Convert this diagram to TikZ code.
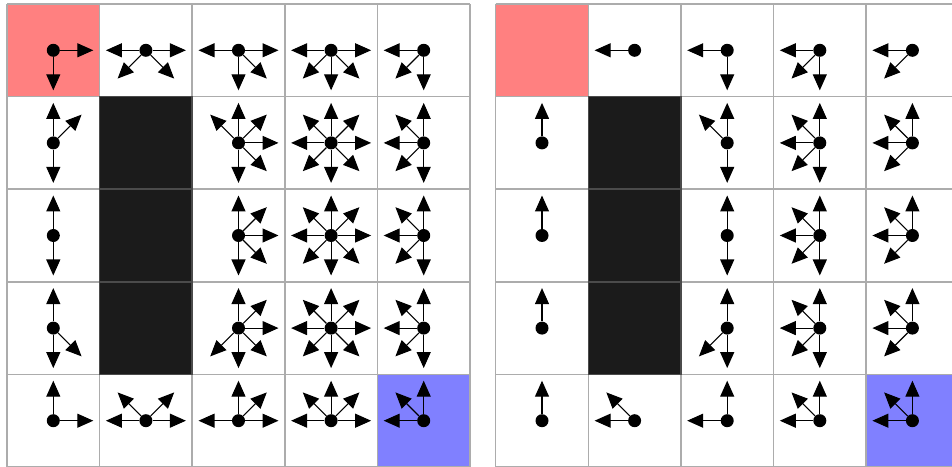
\documentclass[tikz,border=0pt]{standalone}
\usetikzlibrary{arrows.meta,calc}
\definecolor{gridgray}{RGB}{172,172,172}
\definecolor{startred}{RGB}{255,128,128}
\definecolor{goalblue}{RGB}{128,128,255}
\definecolor{wallfill}{RGB}{27,27,27}
\definecolor{walledge}{RGB}{75,75,75}
\tikzset{
  gridline/.style={draw=gridgray, line width=1.5pt},
  agentdot/.style={circle, fill=black, inner sep=0pt, minimum size=13pt},
  move/.style={line width=1.1pt, -{Triangle[length=16pt,width=14pt]}},
  wallcell/.style={fill=wallfill, draw=walledge, line width=1.5pt},
}
% #1 name prefix, #2 grid left x, #3 row, #4 col, #5 list of angles
\newcommand{\policycell}[5]{%
  \node[agentdot] (#1r#3c#4) at ({#2+(#4+0.5)*92.6},{462-(#3+0.5)*92.6}) {};
  \foreach \a in {#5} {\draw[move] (#1r#3c#4.\a) -- ($(#1r#3c#4.center)+(\a:40)$);}
}
% #1 grid left x, #2 row, #3 col, #4 style
\newcommand{\fillcell}[4]{%
  \path[#4] ({#1+#3*92.6},{462-#2*92.6}) rectangle ({#1+(#3+1)*92.6},{462-(#2+1)*92.6});
}
\begin{document}
\begin{tikzpicture}[x=1pt,y=1pt]
\useasboundingbox (0,0) rectangle (952,466);
\clip (0,0) rectangle (952,466);
% ---------- left grid ----------
\fillcell{7}{0}{0}{fill=startred}
\fillcell{7}{4}{4}{fill=goalblue}
\foreach \i in {0,...,5} {
  \draw[gridline] ({7+\i*92.6},462) -- ({7+\i*92.6},-1);
  \draw[gridline] (7,{462-\i*92.6}) -- ({7+5*92.6},{462-\i*92.6});
}
\foreach \r in {1,2,3} {\fillcell{7}{\r}{1}{wallcell}}
% ---------- right grid ----------
\fillcell{495.7}{0}{0}{fill=startred}
\fillcell{495.7}{4}{4}{fill=goalblue}
\foreach \i in {0,...,5} {
  \draw[gridline] ({495.7+\i*92.6},462) -- ({495.7+\i*92.6},-1);
  \draw[gridline] (495.7,{462-\i*92.6}) -- ({495.7+5*92.6},{462-\i*92.6});
}
\foreach \r in {1,2,3} {\fillcell{495.7}{\r}{1}{wallcell}}
% ---------- left grid arrows ----------
\policycell{a}{7}{0}{0}{0,270}
\policycell{a}{7}{0}{1}{180,0,225,315}
\policycell{a}{7}{0}{2}{180,0,270,315}
\policycell{a}{7}{0}{3}{180,0,225,270,315}
\policycell{a}{7}{0}{4}{180,225,270}
\policycell{a}{7}{1}{0}{90,45,270}
\policycell{a}{7}{1}{2}{90,135,45,0,315,270}
\policycell{a}{7}{1}{3}{0,45,90,135,180,225,270,315}
\policycell{a}{7}{1}{4}{180,135,90,225,270}
\policycell{a}{7}{2}{0}{90,270}
\policycell{a}{7}{2}{2}{90,45,0,315,270}
\policycell{a}{7}{2}{3}{0,45,90,135,180,225,270,315}
\policycell{a}{7}{2}{4}{180,135,90,225,270}
\policycell{a}{7}{3}{0}{90,270,315}
\policycell{a}{7}{3}{2}{90,45,0,315,270,225}
\policycell{a}{7}{3}{3}{0,45,90,135,180,225,270,315}
\policycell{a}{7}{3}{4}{180,135,90,225,270}
\policycell{a}{7}{4}{0}{90,0}
\policycell{a}{7}{4}{1}{180,135,45,0}
\policycell{a}{7}{4}{2}{180,90,45,0}
\policycell{a}{7}{4}{3}{180,135,90,45,0}
\policycell{a}{7}{4}{4}{180,135,90}
% ---------- right grid arrows ----------
\policycell{b}{495.7}{0}{1}{180}
\policycell{b}{495.7}{0}{2}{180,270}
\policycell{b}{495.7}{0}{3}{180,225,270}
\policycell{b}{495.7}{0}{4}{180,225}
\policycell{b}{495.7}{1}{0}{90}
\policycell{b}{495.7}{1}{2}{135,90,270}
\policycell{b}{495.7}{1}{3}{135,90,180,225,270}
\policycell{b}{495.7}{1}{4}{135,90,180,225}
\policycell{b}{495.7}{2}{0}{90}
\policycell{b}{495.7}{2}{2}{90,270}
\policycell{b}{495.7}{2}{3}{135,90,180,225,270}
\policycell{b}{495.7}{2}{4}{135,90,180,225}
\policycell{b}{495.7}{3}{0}{90}
\policycell{b}{495.7}{3}{2}{90,225,270}
\policycell{b}{495.7}{3}{3}{135,90,180,225,270}
\policycell{b}{495.7}{3}{4}{135,90,180,225}
\policycell{b}{495.7}{4}{0}{90}
\policycell{b}{495.7}{4}{1}{180,135}
\policycell{b}{495.7}{4}{2}{180,90}
\policycell{b}{495.7}{4}{3}{180,135,90}
\policycell{b}{495.7}{4}{4}{180,135,90}
\end{tikzpicture}
\end{document}
